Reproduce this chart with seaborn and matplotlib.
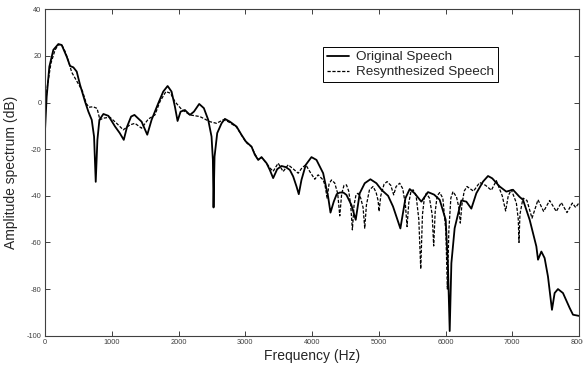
import matplotlib
matplotlib.use("Agg")
import matplotlib.pyplot as plt
import seaborn as sns
import pandas as pd

# Original speech spectrum (Hz, dB)
orig_f = [0, 25, 65, 125, 200, 250, 325, 375, 425, 475, 525, 600, 650, 700, 735, 760, 785, 815, 875, 950,
          1050, 1120, 1180, 1230, 1290, 1340, 1447, 1532, 1597, 1697, 1771, 1837, 1896, 1946, 1986, 2031,
          2096, 2171, 2231, 2310, 2380, 2445, 2495, 2515, 2525, 2540, 2580, 2645, 2695, 2770, 2870, 2945,
          3009, 3094, 3144, 3194, 3244, 3319, 3368, 3418, 3478, 3543, 3608, 3668, 3718, 3768, 3802, 3842,
          3907, 3992, 4067, 4167, 4241, 4277, 4326, 4370, 4416, 4470, 4516, 4590, 4655, 4715, 4790, 4875,
          4965, 5040, 5140, 5214, 5324, 5400, 5464, 5540, 5638, 5738, 5830, 5913, 6003, 6037, 6063, 6088,
          6137, 6237, 6312, 6387, 6462, 6562, 6637, 6700, 6811, 6911, 7011, 7111, 7161, 7261, 7361, 7386,
          7436, 7485, 7535, 7595, 7635, 7685, 7760, 7860, 7910, 8000]
orig_db = [-12, 2.5, 15.4, 22.6, 25.1, 24.7, 19.7, 15.7, 15.1, 13.3, 7.6, 0.4, -3.9, -7.4, -14.6, -34, -16, -7.4, -4.9, -5.7,
           -10.3, -13.1, -16, -10.3, -6.0, -5.3, -8.2, -13.8, -7.4, -0.3, 4.7, 7.1, 4.7, -1.7, -7.9, -3.9,
           -3.2, -5.3, -3.9, -0.6, -2.4, -7.4, -14.6, -24.6, -45, -23.2, -13.1, -8.9, -7.0, -8.2, -10.3, -13.9,
           -16.7, -18.9, -22.4, -24.6, -23.4, -26, -28.9, -32.4, -28.6, -27.2, -27.7, -28.9, -31.7, -36, -39.3, -33.2,
           -26.7, -23.4, -24.6, -30.3, -40.3, -47.2, -42.5, -39.3, -38.6, -38.6, -39.6, -43.9, -50.3, -38.9, -34.6, -32.9,
           -34.6, -37.4, -40, -44.6, -54, -41, -37.1, -39, -42.5, -38.4, -39.5, -41.7, -50.3, -70.3, -98, -68.9,
           -53.9, -42, -42.5, -45.5, -38.9, -33.9, -31.5, -32.5, -36, -38.2, -37.4, -40.5, -41.7, -50.3, -61.7, -67.4,
           -63.9, -66.7, -74.6, -88.9, -81.7, -80, -81.7, -88.1, -91, -91.5]

# Resynthesized speech spectrum (Hz, dB)
resyn_f = [0, 40, 90, 150, 200, 250, 300, 350, 400, 450, 500, 560, 620, 660, 720, 780, 823, 873, 973, 1073,
           1172, 1272, 1347, 1447, 1547, 1647, 1722, 1811, 1881, 1946, 2046, 2171, 2320, 2470, 2570, 2670,
           2745, 2870, 2945, 3009, 3094, 3144, 3194, 3244, 3319, 3368, 3418, 3493, 3568, 3643, 3720, 3793,
           3850, 3907, 3967, 4042, 4092, 4167, 4195, 4227, 4255, 4291, 4340, 4385, 4416, 4445, 4480, 4516,
           4550, 4580, 4605, 4630, 4660, 4690, 4730, 4765, 4790, 4815, 4860, 4915, 4960, 4990, 5005, 5030,
           5080, 5125, 5180, 5224, 5260, 5314, 5360, 5400, 5424, 5450, 5480, 5514, 5560, 5600, 5629, 5655,
           5685, 5713, 5760, 5800, 5823, 5845, 5875, 5913, 5960, 6005, 6028, 6050, 6080, 6112, 6165, 6200,
           6222, 6245, 6280, 6322, 6420, 6512, 6600, 6687, 6762, 6850, 6901, 6940, 6986, 7061, 7090, 7101,
           7115, 7161, 7220, 7296, 7386, 7470, 7560, 7660, 7735, 7820, 7900, 7950, 8000]
resyn_db = [-2, 8, 17, 22.5, 24.8, 24.8, 22, 18, 13, 10.5, 8, 5, -0.5, -2, -1.8, -2.5, -7.4, -6.7, -6.3, -8.9,
            -11.7, -9.6, -8.9, -11, -7.1, -5.3, 0.4, 4.7, 4, 0.4, -2.9, -5.3, -6, -8.2, -8.9, -7.4,
            -8.2, -10.5, -14, -17, -19, -22, -24.5, -23.5, -26, -28, -29.5, -26, -29.6, -26.7, -28.5, -30.3,
            -28, -26.7, -29.6, -32.9, -31, -33.2, -35.5, -41, -35, -33.2, -34.5, -39, -48.6, -39, -35.5, -35.3,
            -38, -44, -54.6, -44, -39.5, -38.9, -41, -45, -53.9, -44, -37.5, -36, -38.5, -42, -46.7, -40,
            -35, -33.9, -35.5, -39.6, -36, -34.6, -37, -44, -53.2, -43, -38.5, -37.4, -40, -50, -71.4, -48,
            -40.5, -38.9, -41, -48, -61.5, -47, -40, -38.6, -41, -55, -80, -55, -41, -38.2, -40.5, -45,
            -51.7, -44, -38, -36, -38, -34.3, -35.5, -37.6, -33.5, -40, -46.5, -40, -37.4, -43, -50, -60,
            -48, -41, -42, -49.6, -41.7, -46.7, -42, -46.7, -42.9, -47.2, -43.1, -45, -43]

x_ticks = [0, 1000, 2000, 3000, 4000, 5000, 6000, 7000, 8000]
y_ticks = [-100, -80, -60, -40, -20, 0, 20, 40]
labels = ["Original Speech", "Resynthesized Speech"]

sns.set_style("ticks")
plt.rcParams['font.family'] = ['Liberation Sans', 'DejaVu Sans']

df_o = pd.DataFrame({"f": orig_f, "db": orig_db})
df_r = pd.DataFrame({"f": resyn_f, "db": resyn_db})

fig = plt.figure(figsize=(5.83, 3.68), dpi=100)
ax = fig.add_axes([45 / 583, (368 - 335.7) / 368, 534 / 583, 326.4 / 368])

sns.lineplot(data=df_o, x="f", y="db", ax=ax, color="black", linewidth=1.3,
             estimator=None, sort=False, label=labels[0])
sns.lineplot(data=df_r, x="f", y="db", ax=ax, color="black", linewidth=0.9,
             linestyle=(0, (2.6, 1.3)), estimator=None, sort=False, label=labels[1])

ax.set_xlim(0, 8000)
ax.set_ylim(-100, 40)
ax.set_xticks(x_ticks)
ax.set_yticks(y_ticks)
ax.set_xticklabels([str(t) for t in x_ticks])
ax.set_yticklabels([str(t) for t in y_ticks])
ax.tick_params(direction="in", length=3.5, width=0.7, color="#404040", labelsize=5.3,
               labelcolor="#404040", pad=2.5, top=True, right=True)
for s in ax.spines.values():
    s.set_visible(True)
    s.set_color("#404040")
    s.set_linewidth(0.8)

ax.set_xlabel("Frequency (Hz)", fontsize=10, labelpad=2)
ax.set_ylabel("Amplitude spectrum (dB)", fontsize=10, labelpad=6)

leg = ax.legend(loc="upper left", bbox_to_anchor=(0.521, 0.885), fontsize=9.7,
                frameon=True, fancybox=False, framealpha=1, edgecolor="black",
                handlelength=1.6, handletextpad=0.5, borderpad=0.3, labelspacing=0.2,
                borderaxespad=0)
leg.get_frame().set_linewidth(0.7)

fig.savefig("out.png", dpi=100)
